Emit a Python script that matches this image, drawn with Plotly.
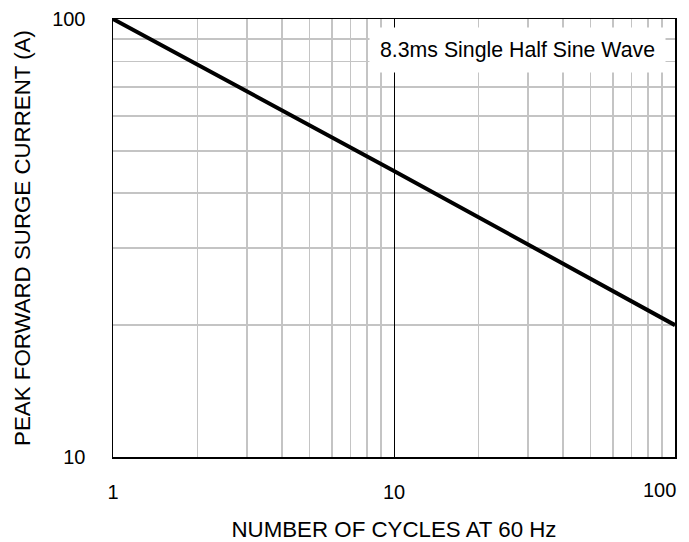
import plotly.graph_objects as go

# Data
cycles = [1, 10, 100]
peak_current = [100, 45, 20]

x_tickvals = [1, 10, 100]
x_ticktext = ["1", "10", ""]   # the "100" label is drawn as an annotation (shifted inward, like the reference)
x_last_label = "100"
y_tickvals = [10, 100]
y_ticktext = ["10", "100"]
x_minor = [2, 3, 4, 5, 6, 7, 8, 9, 20, 30, 40, 50, 60, 70, 80, 90]
y_minor = [20, 30, 40, 50, 60, 70, 80, 90]

annotation_text = "8.3ms Single Half Sine Wave"
x_title = "NUMBER OF CYCLES AT 60 Hz"
y_title = "PEAK FORWARD SURGE CURRENT (A)"

FONT = "Arial, Liberation Sans, sans-serif"
GRID = "#c4c4c4"

fig = go.Figure()
fig.add_trace(go.Scatter(
    x=cycles, y=peak_current, mode="lines",
    line=dict(color="black", width=4),
    cliponaxis=True, showlegend=False, hoverinfo="skip",
))

fig.update_layout(
    width=689, height=542,
    margin=dict(l=113, r=14, t=19, b=85, autoexpand=False),
    paper_bgcolor="white", plot_bgcolor="white",
    font=dict(family=FONT, color="black", size=20),
    xaxis=dict(
        type="log", range=[0, 2], automargin=False,
        tickvals=x_tickvals, ticktext=x_ticktext,
        ticks="", ticklabelstandoff=16, ticklabeloverflow="allow",
        showgrid=True, gridcolor="black", gridwidth=1,
        minor=dict(tickvals=x_minor, showgrid=True, gridcolor=GRID, gridwidth=1.7, ticks=""),
        showline=True, linecolor="black", linewidth=1.5, mirror=True,
        zeroline=False,
        title=dict(text=x_title, font=dict(size=22.3), standoff=20),
        tickfont=dict(size=20),
    ),
    yaxis=dict(
        type="log", range=[1, 2], automargin=False,
        tickvals=y_tickvals, ticktext=y_ticktext,
        ticks="", ticklabelstandoff=22, ticklabeloverflow="allow",
        showgrid=False,
        minor=dict(tickvals=y_minor, showgrid=True, gridcolor=GRID, gridwidth=1.7, ticks=""),
        showline=True, linecolor="black", linewidth=1.5, mirror=True,
        zeroline=False,
        title=dict(text=y_title, font=dict(size=22.3), standoff=15),
        tickfont=dict(size=20),
    ),
    annotations=[
        dict(
            text=annotation_text, xref="paper", yref="paper",
            x=0.72, y=0.929, xanchor="center", yanchor="middle",
            showarrow=False, bgcolor="white", borderpad=10,
            font=dict(size=21.3, family=FONT, color="black"),
        ),
        dict(
            text=x_last_label, xref="x", yref="paper",
            x=2, y=0, xanchor="right", yanchor="middle",
            xshift=3, yshift=-33, showarrow=False,
            font=dict(size=20, family=FONT, color="black"),
        ),
    ],
)

fig.write_html(
    "out.html",
    config={"displayModeBar": False, "staticPlot": True},
    post_script="document.body.style.margin='0';",
)
